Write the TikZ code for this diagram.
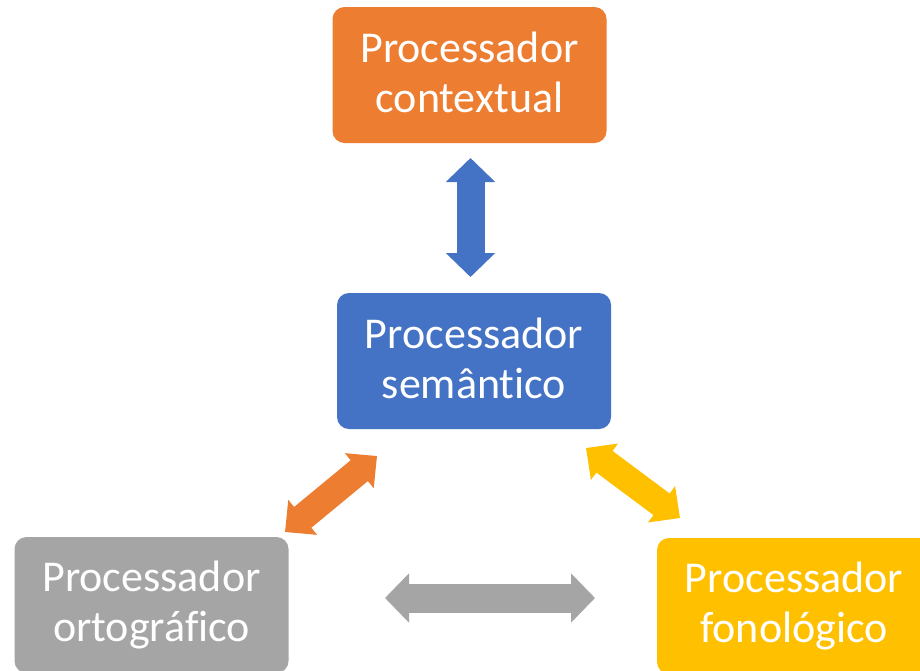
\documentclass[tikz,border=0pt]{standalone}
\usepackage{fontspec}
\setmainfont{Carlito}[Ligatures={NoCommon}]
\usetikzlibrary{arrows.meta}
\definecolor{corange}{HTML}{ED7D31}
\definecolor{cblue}{HTML}{4472C4}
\definecolor{cgray}{HTML}{A5A5A5}
\definecolor{cyellow}{HTML}{FFC000}
\begin{document}
\begin{tikzpicture}[x=1pt,y=-1pt,
  procbox/.style={rectangle, rounded corners=12pt, minimum width=274pt, minimum height=136pt,
    text=white, align=center, inner sep=0pt, font=\fontsize{44}{50}\selectfont},
  bigarrow/.style={line width=28pt, {Triangle[length=24pt,width=48pt]}-{Triangle[length=24pt,width=48pt]}},
  diagarrow/.style={line width=27pt, {Triangle[length=23pt,width=44pt]}-{Triangle[length=23pt,width=44pt]}}
]
\useasboundingbox (0,0) rectangle (920,670);
\clip (0,0) rectangle (920,670);
\fill[white] (0,0) rectangle (920,670);

\node[procbox, fill=corange] (ctx) at (469.5,75) {};
\node[text=white, align=center, font=\fontsize{44}{50}\selectfont, inner sep=0pt] (ctxt) at ([yshift=3pt]ctx.center) {Processador\\contextual};
\node[procbox, fill=cblue] (sem) at (474,361) {};
\node[text=white, align=center, font=\fontsize{44}{50}\selectfont, inner sep=0pt] (semt) at ([yshift=3pt]sem.center) {Processador\\semântico};
\node[procbox, fill=cgray] (ort) at (151.5,605) {Processador\\ortográfico};
\node[procbox, fill=cyellow] (fon) at (794,606) {Processador\\fonológico};

\coordinate (b1) at (470.5,158);
\coordinate (b2) at (470.5,277);
\coordinate (g1) at (385,598);
\coordinate (g2) at (595,598);
\coordinate (o1) at (285,532);
\coordinate (o2) at (377,456);
\coordinate (y1) at (586,448);
\coordinate (y2) at (680,518);

\draw[bigarrow, cblue] (b1) -- (b2);
\draw[bigarrow, cgray, line width=29pt] (g1) -- (g2);
\draw[diagarrow, corange] (o1) -- (o2);
\draw[diagarrow, cyellow] (y1) -- (y2);
\end{tikzpicture}
\end{document}
